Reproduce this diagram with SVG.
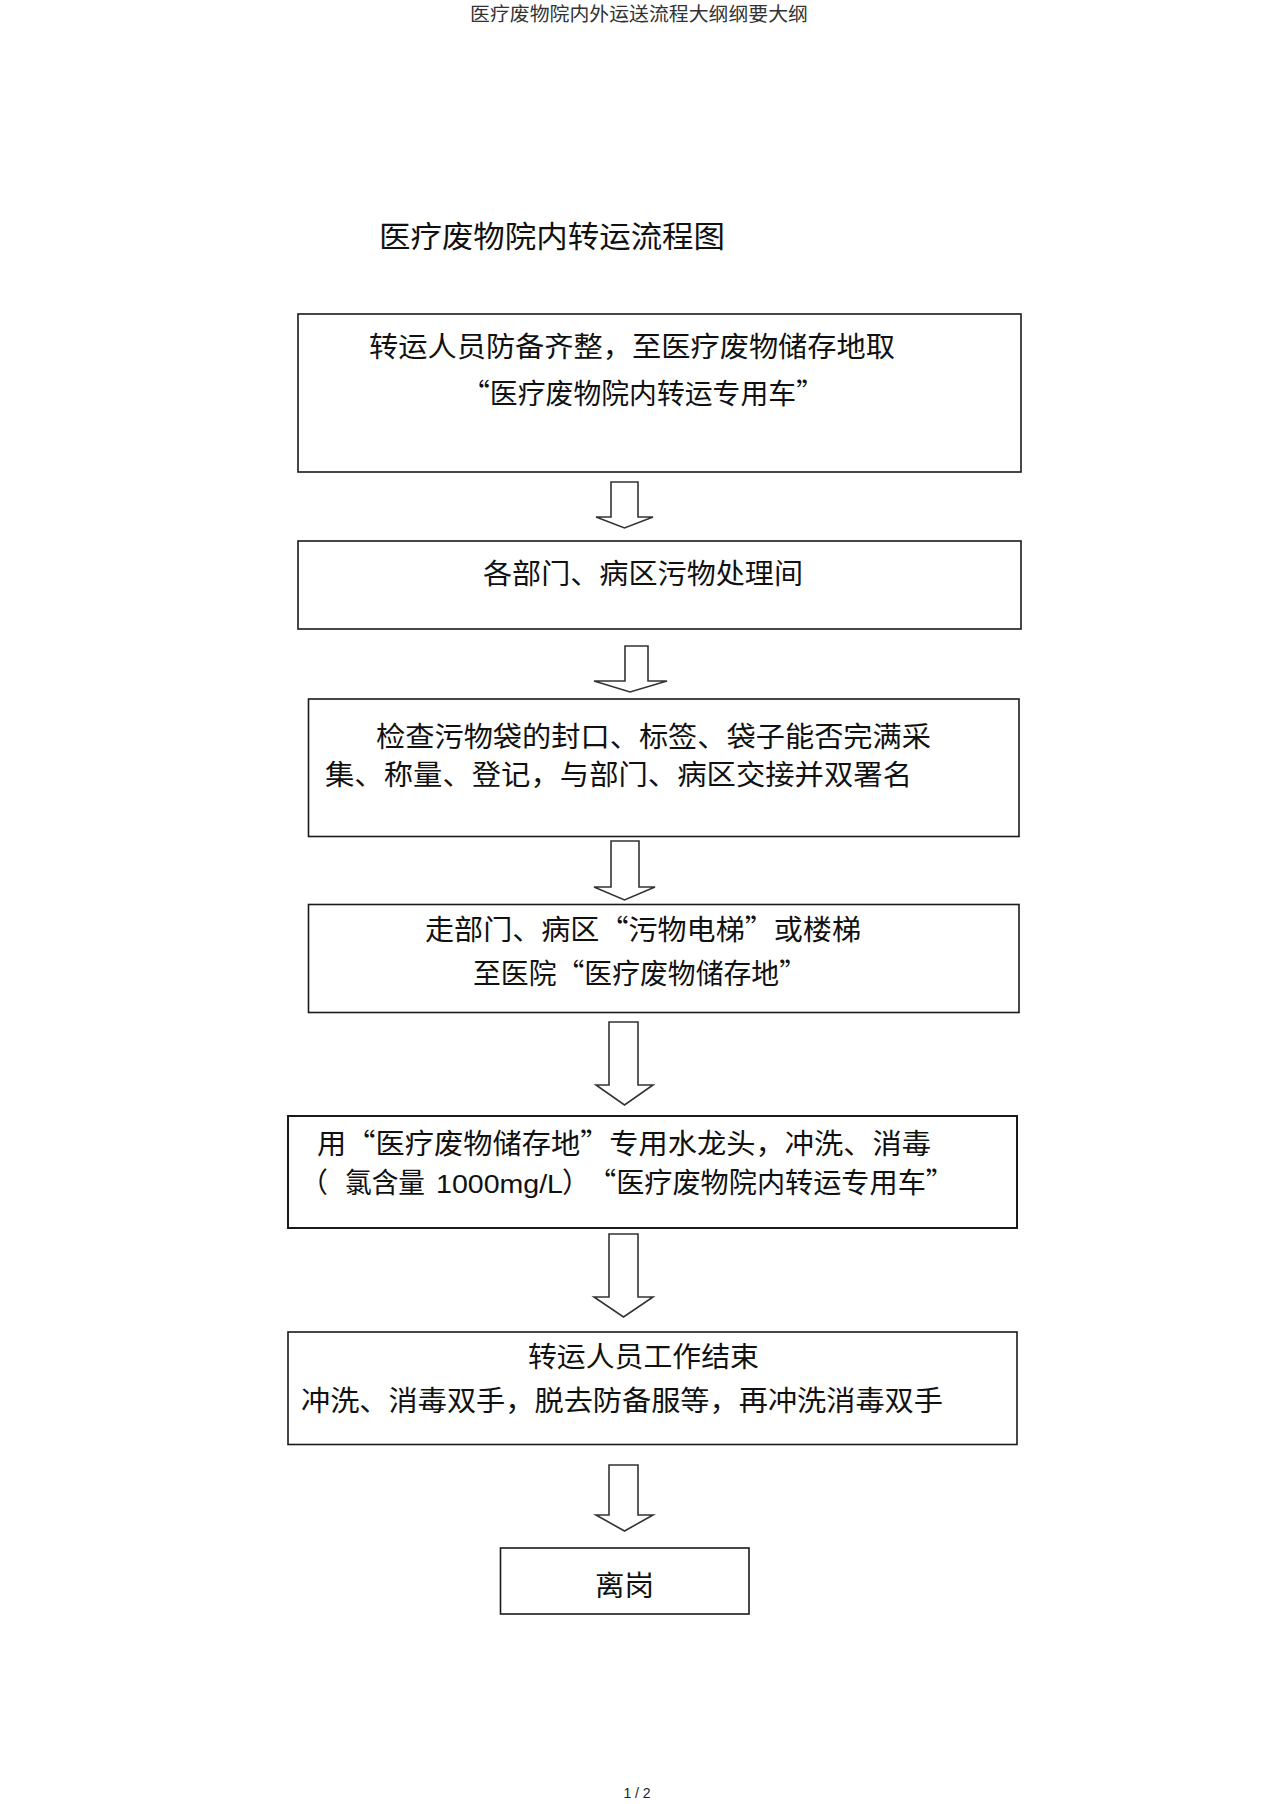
<svg xmlns="http://www.w3.org/2000/svg" width="1274" height="1804" viewBox="0 0 1274 1804">
<style>
.box{fill:#fff;stroke:#1a1a1a;stroke-width:1.6}
.arrow{fill:#fff;stroke:#333;stroke-width:1.6;stroke-linejoin:miter}
.t{font-family:"Noto Sans CJK SC","Liberation Sans",sans-serif;font-size:28px;fill:#111}
.lat{font-family:"Liberation Sans","Noto Sans CJK SC",sans-serif;font-size:25px;fill:#111}
</style>
<rect width="1274" height="1804" fill="#fff"/>
<text x="470" y="21" class="t" style="font-size:19px;fill:#333" textLength="338" lengthAdjust="spacingAndGlyphs">医疗废物院内外运送流程大纲纲要大纲</text>
<text x="379" y="247" class="t" style="font-size:30px" textLength="346" lengthAdjust="spacingAndGlyphs">医疗废物院内转运流程图</text>
<g id="connectors">
<polygon class="arrow" points="611,482 638,482 638,517 653,517 624.5,528 596,517 611,517"/>
<polygon class="arrow" points="625,646 648,646 648,681 667,681 630,692 594,681 625,681"/>
<polygon class="arrow" points="611,841 639,841 639,887 655,887 624.5,900 594,887 611,887"/>
<polygon class="arrow" points="609,1022 638,1022 638,1085 653,1085 624.5,1105 596,1085 609,1085"/>
<polygon class="arrow" points="609,1234 638,1234 638,1297 653,1297 623.5,1317 594,1297 609,1297"/>
<polygon class="arrow" points="609,1465 638,1465 638,1515 653,1515 624.5,1531 596,1515 609,1515"/>
</g>
<g id="node1">
<rect class="box" x="298" y="314" width="723" height="158"/>
<text class="t" x="369" y="357" textLength="526" lengthAdjust="spacingAndGlyphs">转运人员防备齐整，至医疗废物储存地取</text>
<text class="t" x="462" y="404" textLength="362" lengthAdjust="spacingAndGlyphs">“医疗废物院内转运专用车”</text>
</g>
<g id="node2">
<rect class="box" x="298" y="541" width="723" height="88"/>
<text class="t" x="483" y="584" textLength="320" lengthAdjust="spacingAndGlyphs">各部门、病区污物处理间</text>
</g>
<g id="node3">
<rect class="box" x="308.5" y="699" width="710.5" height="137.5"/>
<text class="t" x="376" y="747" textLength="555" lengthAdjust="spacingAndGlyphs">检查污物袋的封口、标签、袋子能否完满采</text>
<text class="t" x="325" y="785" textLength="587" lengthAdjust="spacingAndGlyphs">集、称量、登记，与部门、病区交接并双署名</text>
</g>
<g id="node4">
<rect class="box" x="308.5" y="904.5" width="710.5" height="108"/>
<text class="t" x="425" y="940" textLength="436" lengthAdjust="spacingAndGlyphs">走部门、病区“污物电梯”或楼梯</text>
<text class="t" x="473" y="984" textLength="334" lengthAdjust="spacingAndGlyphs">至医院“医疗废物储存地”</text>
</g>
<g id="node5">
<rect class="box" x="288" y="1116" width="729" height="112" style="stroke-width:2"/>
<text class="t" x="317" y="1154" textLength="614" lengthAdjust="spacingAndGlyphs">用“医疗废物储存地”专用水龙头，冲洗、消毒</text>
<text class="t" x="300" y="1193">（</text>
<text class="t" x="345" y="1193" textLength="80" lengthAdjust="spacingAndGlyphs">氯含量</text>
<text class="lat" x="436" y="1193" textLength="127" lengthAdjust="spacingAndGlyphs">1000mg/L</text>
<text class="t" x="562" y="1193">）</text>
<text class="t" x="588" y="1193" textLength="366" lengthAdjust="spacingAndGlyphs">“医疗废物院内转运专用车”</text>
</g>
<g id="node6">
<rect class="box" x="288" y="1332" width="729" height="112.5"/>
<text class="t" x="528" y="1367" textLength="231" lengthAdjust="spacingAndGlyphs">转运人员工作结束</text>
<text class="t" x="301" y="1411" textLength="642" lengthAdjust="spacingAndGlyphs">冲洗、消毒双手，脱去防备服等，再冲洗消毒双手</text>
</g>
<g id="node7">
<rect class="box" x="500.5" y="1548" width="248.5" height="66"/>
<text class="t" x="595" y="1596" textLength="59" lengthAdjust="spacingAndGlyphs">离岗</text>
</g>
<text x="637" y="1798" text-anchor="middle" style="font-family:'Liberation Sans',sans-serif;font-size:14px;fill:#222">1 / 2</text>
</svg>
